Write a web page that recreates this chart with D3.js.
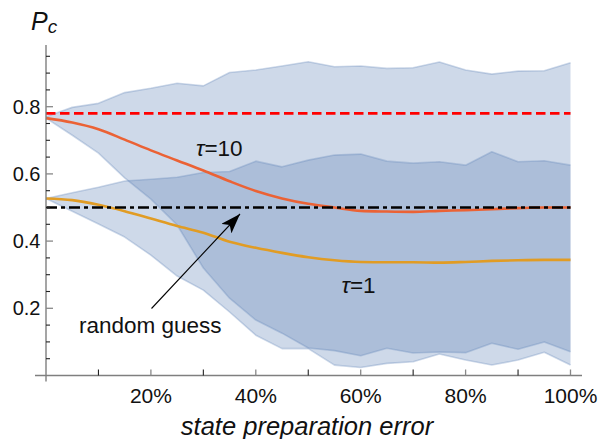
<!DOCTYPE html>
<html>
<head>
<meta charset="utf-8">
<script src="https://cdn.jsdelivr.net/npm/d3@7"></script>
<style>
  html, body { margin: 0; padding: 0; background: #fff; }
  svg { display: block; font-family: "Liberation Sans", Arial, sans-serif; }
</style>
</head>
<body>
<svg id="chart" width="599" height="439"></svg>
<script>
// ---- data ----
const errors = [0,0.05,0.1,0.15,0.2,0.25,0.3,0.35,0.4,0.45,0.5,0.55,0.6,0.65,0.7,0.75,0.8,0.85,0.9,0.95,1.0];

const tau10Mean  = [0.766,0.753,0.733,0.702,0.670,0.640,0.610,0.578,0.549,0.527,0.511,0.500,0.490,0.488,0.487,0.490,0.492,0.495,0.498,0.500,0.500];
const tau10Upper = [0.770,0.798,0.810,0.842,0.855,0.870,0.862,0.902,0.909,0.921,0.934,0.919,0.921,0.914,0.916,0.933,0.909,0.897,0.906,0.907,0.931];
const tau10Lower = [0.766,0.715,0.662,0.588,0.525,0.448,0.320,0.230,0.165,0.126,0.082,0.074,0.059,0.081,0.067,0.070,0.068,0.096,0.078,0.100,0.071];

const tau1Mean  = [0.527,0.522,0.508,0.489,0.467,0.445,0.425,0.398,0.380,0.365,0.352,0.343,0.338,0.337,0.337,0.336,0.338,0.341,0.343,0.344,0.344];
const tau1Upper = [0.527,0.544,0.560,0.579,0.584,0.590,0.604,0.607,0.638,0.621,0.641,0.656,0.659,0.638,0.632,0.636,0.626,0.666,0.636,0.639,0.626];
const tau1Lower = [0.527,0.489,0.451,0.412,0.358,0.296,0.254,0.189,0.120,0.080,0.080,0.031,0.024,0.036,0.041,0.064,0.046,0.031,0.046,0.069,0.031];

const optimalLevel = 0.78;
const randomGuessLevel = 0.5;

const xMajorTicks = [0.2,0.4,0.6,0.8,1.0];
const xMajorLabels = ["20%","40%","60%","80%","100%"];
const xMinorTicks = [0.1,0.3,0.5,0.7,0.9];
const yMajorTicks = [0.2,0.4,0.6,0.8];
const yMajorLabels = ["0.2","0.4","0.6","0.8"];
const yMinorTicks = [0.05,0.1,0.15,0.25,0.3,0.35,0.45,0.5,0.55,0.65,0.7,0.75,0.85,0.9,0.95];

// ---- chart ----
const svg = d3.select("#chart");
const x = d3.scaleLinear().domain([0,1]).range([46,570.5]);
const y = d3.scaleLinear().domain([0,1]).range([375.5,39.5]);

const bandFill = "#5E81B5";
const bands = [
  {lower: tau10Lower, upper: tau10Upper},
  {lower: tau1Lower, upper: tau1Upper}
];
const area = d3.area().x((d,i)=>x(errors[i])).y0(d=>y(d[0])).y1(d=>y(d[1]));
const line = d3.line().x((d,i)=>x(errors[i])).y(d=>y(d));

bands.forEach(b=>{
  const pts = errors.map((e,i)=>[b.lower[i], b.upper[i]]);
  svg.append("path").attr("d", area(pts)).attr("fill", bandFill).attr("fill-opacity",0.3);
});
bands.forEach(b=>{
  [b.lower,b.upper].forEach(arr=>{
    svg.append("path").attr("d", line(arr)).attr("fill","none")
      .attr("stroke", bandFill).attr("stroke-opacity",0.3).attr("stroke-width",1.6)
      .attr("stroke-linejoin","round");
  });
});

// reference lines
svg.append("line").attr("x1",x(0)).attr("x2",x(1)).attr("y1",y(optimalLevel)).attr("y2",y(optimalLevel))
  .attr("stroke","#FF0000").attr("stroke-width",2.6).attr("stroke-dasharray","9.5,4.5");

// mean curves
svg.append("path").attr("d", d3.line().curve(d3.curveMonotoneX).x((d,i)=>x(errors[i])).y(d=>y(d))(tau10Mean))
  .attr("fill","none").attr("stroke","#EB6235").attr("stroke-width",2.6);
svg.append("path").attr("d", d3.line().curve(d3.curveMonotoneX).x((d,i)=>x(errors[i])).y(d=>y(d))(tau1Mean))
  .attr("fill","none").attr("stroke","#E19C24").attr("stroke-width",2.6);

svg.append("line").attr("x1",x(0)).attr("x2",x(1)).attr("y1",y(randomGuessLevel)).attr("y2",y(randomGuessLevel))
  .attr("stroke","#000").attr("stroke-width",2.6).attr("stroke-dasharray","11,4,4,4");

// axes
const axisColor = "#7f7f7f";
svg.append("line").attr("x1",35).attr("x2",582).attr("y1",y(0)).attr("y2",y(0)).attr("stroke",axisColor).attr("stroke-width",1.4);
svg.append("line").attr("x1",x(0)).attr("x2",x(0)).attr("y1",45).attr("y2",381.5).attr("stroke",axisColor).attr("stroke-width",1.4);

xMajorTicks.forEach((t,i)=>{
  svg.append("line").attr("x1",x(t)).attr("x2",x(t)).attr("y1",y(0)).attr("y2",y(0)-6).attr("stroke","#888").attr("stroke-width",1.3);
  svg.append("text").attr("x",x(t)).attr("y",402.5).attr("text-anchor","middle").attr("font-size",21).attr("fill","#111").text(xMajorLabels[i]);
});
xMinorTicks.forEach(t=>{
  svg.append("line").attr("x1",x(t)).attr("x2",x(t)).attr("y1",y(0)).attr("y2",y(0)-6).attr("stroke","#222").attr("stroke-width",1.1);
});
yMajorTicks.forEach((t,i)=>{
  svg.append("line").attr("x1",x(0)).attr("x2",x(0)+7).attr("y1",y(t)).attr("y2",y(t)).attr("stroke","#888").attr("stroke-width",1.3);
  svg.append("text").attr("x",40.5).attr("y",y(t)+7).attr("text-anchor","end").attr("font-size",20).attr("fill","#111").text(yMajorLabels[i]);
});
yMinorTicks.forEach(t=>{
  svg.append("line").attr("x1",x(0)).attr("x2",x(0)+4).attr("y1",y(t)).attr("y2",y(t)).attr("stroke","#222").attr("stroke-width",1.1);
});

// axis titles
svg.append("text").attr("x",307).attr("y",434.5).attr("text-anchor","middle").attr("font-size",25.5)
  .attr("font-style","italic").attr("fill","#111").text("state preparation error");
const pc = svg.append("text").attr("x",31).attr("y",29.5).attr("font-size",25).attr("font-style","italic").attr("fill","#111");
pc.append("tspan").text("P");
pc.append("tspan").attr("font-size",19).attr("dy",3).text("c");

// annotations
const t10 = svg.append("text").attr("x",196).attr("y",156).attr("font-size",22.5).attr("fill","#111");
t10.append("tspan").attr("font-style","italic").text("τ");
t10.append("tspan").text("=10");
const t1 = svg.append("text").attr("x",341.5).attr("y",293).attr("font-size",22.5).attr("fill","#111");
t1.append("tspan").attr("font-style","italic").text("τ");
t1.append("tspan").text("=1");

svg.append("text").attr("x",79).attr("y",333).attr("font-size",22.5).attr("fill","#111").text("random guess");

// arrow
svg.append("defs").append("marker").attr("id","ah").attr("viewBox","0 0 20 14").attr("refX",20).attr("refY",7)
  .attr("markerWidth",20).attr("markerHeight",14).attr("markerUnits","userSpaceOnUse").attr("orient","auto")
  .append("path").attr("d","M0,0 L20,7 L0,14 L5,7 Z").attr("fill","#000");
svg.append("line").attr("x1",151.5).attr("y1",308.5).attr("x2",240).attr("y2",214)
  .attr("stroke","#000").attr("stroke-width",1.1).attr("marker-end","url(#ah)");
</script>
</body>
</html>
